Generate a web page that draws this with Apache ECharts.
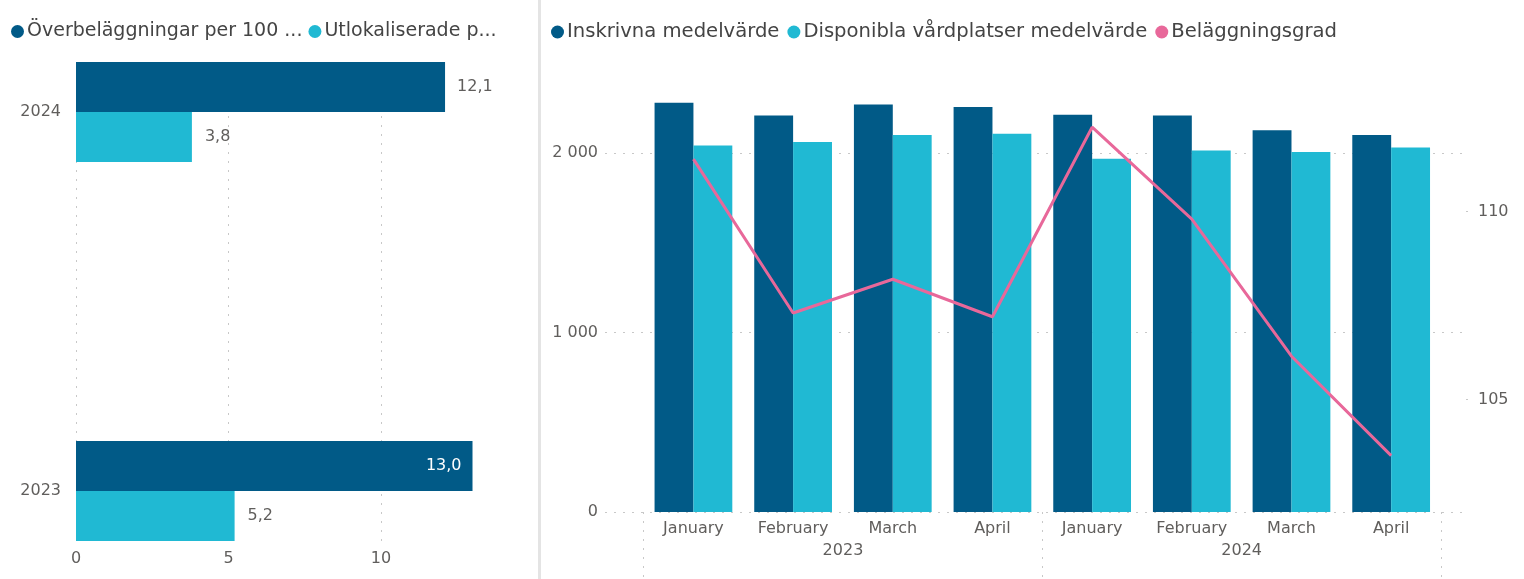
<!DOCTYPE html>
<html>
<head>
<meta charset="utf-8">
<script src="https://cdn.jsdelivr.net/npm/echarts@6/dist/echarts.min.js"></script>
<style>
  html, body { margin: 0; padding: 0; background: #fff; }
  #main { width: 1524px; height: 579px; }
</style>
</head>
<body>
<div id="main"></div>
<script>
// left chart: per 100 vårdplatser
const barYears = ['2023', '2024'];
const overbelaggningar = [13.0, 12.1];
const utlokaliserade = [5.2, 3.8];
const leftLegend = ['Överbeläggningar per 100 ...', 'Utlokaliserade p...'];
const leftTicks = [0, 5, 10];

// right chart: monthly averages
const months = ['January', 'February', 'March', 'April', 'January', 'February', 'March', 'April'];
const years = ['2023', '2024'];
const inskrivna = [2279, 2208, 2269, 2255, 2212, 2208, 2126, 2100];
const disponibla = [2041, 2060, 2099, 2106, 1967, 2013, 2004, 2030];
const belaggningsgrad = [111.4, 107.3, 108.2, 107.2, 112.25, 109.8, 106.15, 103.5];
const leftAxisTicks = [0, 1000, 2000];
const rightAxisTicks = [105, 110];

const DARK = '#015a87';
const TEAL = '#20b9d3';
const PINK = '#e8689a';
const FONT = 'DejaVu Sans';
const GREY = '#605e5c';

const dotted = { color: '#c8c8c8', width: 1, type: [2, 7] };
const fmtDec = v => v.toFixed(1).replace('.', ',');
const fmtThousand = v => String(v).replace(/\B(?=(\d{3})+(?!\d))/g, ' ');

const chart = echarts.init(document.getElementById('main'));

const legendStyle = (size, gap) => ({
  icon: 'circle', itemWidth: 13, itemHeight: 13, itemGap: gap, padding: 0,
  textStyle: { fontFamily: FONT, fontSize: size, color: '#444', padding: [0, 0, 0, -2] }
});

chart.setOption({
  animation: false,
  textStyle: { fontFamily: FONT },
  graphic: [{
    type: 'rect', left: 538, top: 0,
    shape: { width: 3, height: 579 },
    style: { fill: '#e4e4e4' }
  }],
  legend: [
    Object.assign({ data: leftLegend, left: 11, top: 22 }, legendStyle(19, 6)),
    Object.assign({
      data: ['Inskrivna medelvärde', 'Disponibla vårdplatser medelvärde', 'Beläggningsgrad'],
      left: 551, top: 22
    }, legendStyle(19.6, 8))
  ],
  grid: [
    // 0: left chart background (gridlines + x labels)
    { left: 76, width: 427, top: 62, bottom: 38 },
    // 1: left chart bars
    { left: 76, width: 427, top: 112, bottom: 88 },
    // 2: right chart background (gridlines + y labels)
    { left: 605, right: 58, top: 81, bottom: 67 },
    // 3: right chart bars + line
    { left: 643.6, right: 83, top: 81, bottom: 67 }
  ],
  xAxis: [
    {
      gridIndex: 0, type: 'value', min: 0, max: 14,
      axisLine: { show: false },
      axisTick: { show: false, customValues: leftTicks },
      axisLabel: { customValues: leftTicks, color: GREY, fontSize: 16, margin: 10 },
      splitLine: { show: true, lineStyle: dotted }
    },
    {
      gridIndex: 1, type: 'value', min: 0, max: 14, show: false
    },
    {
      gridIndex: 2, type: 'category', data: months, show: false
    },
    {
      gridIndex: 3, type: 'category', data: months,
      axisLine: { show: false },
      axisTick: { show: false },
      axisLabel: { color: GREY, fontSize: 16, margin: 9, interval: 0 }
    },
    {
      gridIndex: 3, type: 'category', data: years, position: 'bottom',
      axisLine: { show: false },
      axisTick: { show: true, length: 66, lineStyle: dotted },
      axisLabel: { color: GREY, fontSize: 16, margin: 31 }
    }
  ],
  yAxis: [
    {
      gridIndex: 0, type: 'value', min: 0, max: 1, show: false
    },
    {
      gridIndex: 1, type: 'category', data: barYears, boundaryGap: false,
      axisLine: { show: false },
      axisTick: { show: false },
      axisLabel: { color: GREY, fontSize: 16, margin: 15 }
    },
    {
      gridIndex: 2, type: 'value', min: 0, max: 2400, position: 'left',
      axisLine: { show: false },
      axisTick: { show: false, customValues: leftAxisTicks },
      axisLabel: { customValues: leftAxisTicks, color: GREY, fontSize: 16, margin: 7, formatter: fmtThousand },
      splitLine: { show: true, lineStyle: dotted }
    },
    {
      gridIndex: 2, type: 'value', min: 102, max: 113.48, position: 'right',
      axisLine: { show: false },
      axisTick: { show: true, customValues: rightAxisTicks, length: 2, lineStyle: { color: '#c8c8c8' } },
      axisLabel: { customValues: rightAxisTicks, color: GREY, fontSize: 16, margin: 12 },
      splitLine: { show: false }
    },
    {
      gridIndex: 3, type: 'value', min: 0, max: 2400, show: false, splitLine: { show: false }
    },
    {
      gridIndex: 3, type: 'value', min: 102, max: 113.48, show: false, splitLine: { show: false }
    }
  ],
  series: [
    {
      name: leftLegend[0], type: 'bar', xAxisIndex: 1, yAxisIndex: 1,
      barWidth: 50, barGap: 0, clip: false,
      itemStyle: { color: DARK },
      data: overbelaggningar.map(v => ({
        value: v,
        label: v > 12.5
          ? { position: 'insideRight', color: '#fff', distance: 11 }
          : { position: 'right', color: GREY, distance: 12 }
      })),
      label: { show: true, fontSize: 16, formatter: p => fmtDec(p.value) }
    },
    {
      name: leftLegend[1], type: 'bar', xAxisIndex: 1, yAxisIndex: 1,
      barWidth: 50, barGap: 0, clip: false,
      itemStyle: { color: TEAL },
      data: utlokaliserade,
      label: { show: true, position: 'right', distance: 13, color: GREY, fontSize: 16, formatter: p => fmtDec(p.value) }
    },
    {
      name: 'Inskrivna medelvärde', type: 'bar', xAxisIndex: 3, yAxisIndex: 4,
      barGap: 0, barCategoryGap: '22%',
      itemStyle: { color: DARK },
      data: inskrivna
    },
    {
      name: 'Disponibla vårdplatser medelvärde', type: 'bar', xAxisIndex: 3, yAxisIndex: 4,
      barGap: 0, barCategoryGap: '22%',
      itemStyle: { color: TEAL },
      data: disponibla
    },
    {
      name: 'Beläggningsgrad', type: 'line', xAxisIndex: 3, yAxisIndex: 5,
      showSymbol: false, symbol: 'none',
      lineStyle: { color: PINK, width: 3 },
      itemStyle: { color: PINK },
      data: belaggningsgrad
    }
  ]
});
</script>
</body>
</html>
